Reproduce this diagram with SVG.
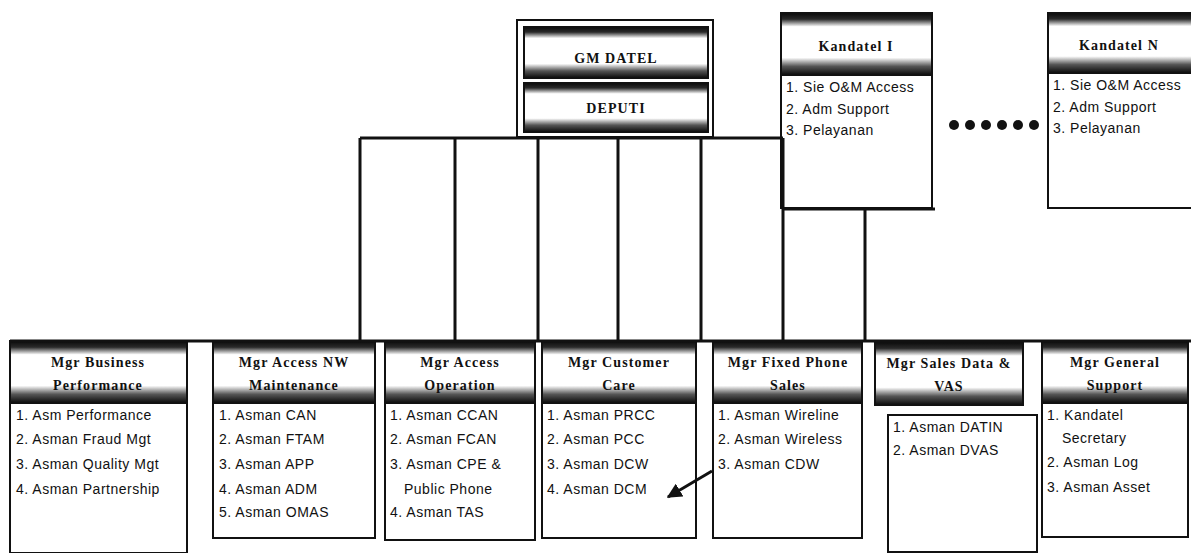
<svg xmlns="http://www.w3.org/2000/svg" width="1191" height="553" viewBox="0 0 1191 553">
<defs>
<linearGradient id="hdr" x1="0" y1="0" x2="0" y2="1">
<stop offset="0" stop-color="#0a0a0a"/>
<stop offset="0.1" stop-color="#2a2a2a"/>
<stop offset="0.22" stop-color="#ffffff"/>
<stop offset="0.72" stop-color="#ffffff"/>
<stop offset="0.86" stop-color="#555555"/>
<stop offset="1" stop-color="#0a0a0a"/>
</linearGradient>
<marker id="arr" viewBox="0 0 10 10" refX="9" refY="5" markerWidth="5" markerHeight="5" orient="auto-start-reverse">
<path d="M0,0 L10,5 L0,10 z" fill="#111"/>
</marker>
</defs>
<style>
.hd{fill:url(#hdr);stroke:#111;stroke-width:2}
.bx{fill:#fff;stroke:#111;stroke-width:2}
.ln{stroke:#111;stroke-width:3;fill:none}
.ht{font-family:"Liberation Serif",serif;font-weight:bold;font-size:14px;letter-spacing:1.1px;fill:#111;text-anchor:middle}
.it{font-family:"Liberation Sans",sans-serif;font-size:14px;letter-spacing:0.5px;fill:#111}
</style>
<rect width="1191" height="553" fill="#fff"/>

<g id="gm">
<rect x="517" y="20" width="196" height="117" class="bx"/>
<rect x="524" y="27" width="184" height="51" class="hd"/>
<text class="ht" x="616" y="63">GM DATEL</text>
</g>
<g id="deputi">
<rect x="524" y="83" width="184" height="49" class="hd"/>
<text class="ht" x="616" y="113">DEPUTI</text>
</g>

<g id="kandatel1">
<rect x="781" y="13" width="151" height="195" class="bx"/>
<rect x="781" y="13" width="151" height="62" class="hd"/>
<text class="ht" x="856" y="51">Kandatel I</text>
<text class="it" x="786" y="92">1. Sie O&amp;M Access</text>
<text class="it" x="786" y="114">2. Adm Support</text>
<text class="it" x="786" y="135">3. Pelayanan</text>
</g>

<g id="dots" fill="#111">
<circle cx="954" cy="125" r="5"/><circle cx="970" cy="125" r="5"/><circle cx="986" cy="125" r="5"/>
<circle cx="1002" cy="125" r="5"/><circle cx="1018" cy="125" r="5"/><circle cx="1034" cy="125" r="5"/>
</g>

<g id="kandatelN">
<rect x="1048" y="13" width="150" height="195" class="bx"/>
<rect x="1048" y="13" width="150" height="60" class="hd"/>
<text class="ht" x="1119" y="50">Kandatel N</text>
<text class="it" x="1053" y="90">1. Sie O&amp;M Access</text>
<text class="it" x="1053" y="112">2. Adm Support</text>
<text class="it" x="1053" y="133">3. Pelayanan</text>
</g>

<g id="mgr-business">
<rect x="10" y="403" width="177" height="150" class="bx"/>
<rect x="10" y="341" width="177" height="62" class="hd"/>
<text class="ht" x="98" y="367">Mgr Business</text>
<text class="ht" x="98" y="390">Performance</text>
<text class="it" x="16" y="420">1. Asm Performance</text>
<text class="it" x="16" y="444">2. Asman Fraud Mgt</text>
<text class="it" x="16" y="469">3. Asman Quality Mgt</text>
<text class="it" x="16" y="494">4. Asman Partnership</text>
</g>

<g id="mgr-access-nw">
<rect x="213" y="403" width="162" height="135" class="bx"/>
<rect x="213" y="341" width="162" height="62" class="hd"/>
<text class="ht" x="294" y="367">Mgr Access NW</text>
<text class="ht" x="294" y="390">Maintenance</text>
<text class="it" x="219" y="420">1. Asman CAN</text>
<text class="it" x="219" y="444">2. Asman FTAM</text>
<text class="it" x="219" y="469">3. Asman APP</text>
<text class="it" x="219" y="494">4. Asman ADM</text>
<text class="it" x="219" y="517">5. Asman OMAS</text>
</g>

<g id="mgr-access-op">
<rect x="385" y="403" width="150" height="137" class="bx"/>
<rect x="385" y="341" width="150" height="62" class="hd"/>
<text class="ht" x="460" y="367">Mgr Access</text>
<text class="ht" x="460" y="390">Operation</text>
<text class="it" x="390" y="420">1. Asman CCAN</text>
<text class="it" x="390" y="444">2. Asman FCAN</text>
<text class="it" x="390" y="469">3. Asman CPE &amp;</text>
<text class="it" x="404" y="494">Public Phone</text>
<text class="it" x="390" y="517">4. Asman TAS</text>
</g>

<g id="mgr-customer-care">
<rect x="542" y="403" width="154" height="135" class="bx"/>
<rect x="542" y="341" width="154" height="62" class="hd"/>
<text class="ht" x="619" y="367">Mgr Customer</text>
<text class="ht" x="619" y="390">Care</text>
<text class="it" x="547" y="420">1. Asman PRCC</text>
<text class="it" x="547" y="444">2. Asman PCC</text>
<text class="it" x="547" y="469">3. Asman DCW</text>
<text class="it" x="547" y="494">4. Asman DCM</text>
</g>

<g id="mgr-fixed-phone">
<rect x="713" y="403" width="149" height="135" class="bx"/>
<rect x="713" y="341" width="149" height="62" class="hd"/>
<text class="ht" x="788" y="367">Mgr Fixed Phone</text>
<text class="ht" x="788" y="390">Sales</text>
<text class="it" x="718" y="420">1. Asman Wireline</text>
<text class="it" x="718" y="444">2. Asman Wireless</text>
<text class="it" x="718" y="469">3. Asman CDW</text>
</g>

<g id="mgr-sales-data">
<rect x="875" y="342" width="148" height="63" class="hd"/>
<text class="ht" x="949" y="368">Mgr Sales Data &amp;</text>
<text class="ht" x="949" y="391">VAS</text>
<rect x="888" y="415" width="149" height="137" class="bx"/>
<text class="it" x="893" y="432">1. Asman DATIN</text>
<text class="it" x="893" y="455">2. Asman DVAS</text>
</g>

<g id="mgr-general-support">
<rect x="1042" y="403" width="146" height="134" class="bx"/>
<rect x="1042" y="341" width="146" height="62" class="hd"/>
<text class="ht" x="1115" y="367">Mgr General</text>
<text class="ht" x="1115" y="390">Support</text>
<text class="it" x="1047" y="420">1. Kandatel</text>
<text class="it" x="1062" y="443">Secretary</text>
<text class="it" x="1047" y="467">2. Asman Log</text>
<text class="it" x="1047" y="492">3. Asman Asset</text>
</g>

<g id="connectors">
<path class="ln" d="M360,138 H783"/>
<path class="ln" d="M360,138 V341 M455,138 V341 M538,138 V341 M618,138 V341 M701,138 V341 M783,138 V341"/>
<path class="ln" d="M783,209 H935 M865,209 V341"/>
<path class="ln" d="M10,341 H1191"/>
<line x1="712" y1="471" x2="668" y2="497" stroke="#111" stroke-width="3" marker-end="url(#arr)"/>
</g>
</svg>
